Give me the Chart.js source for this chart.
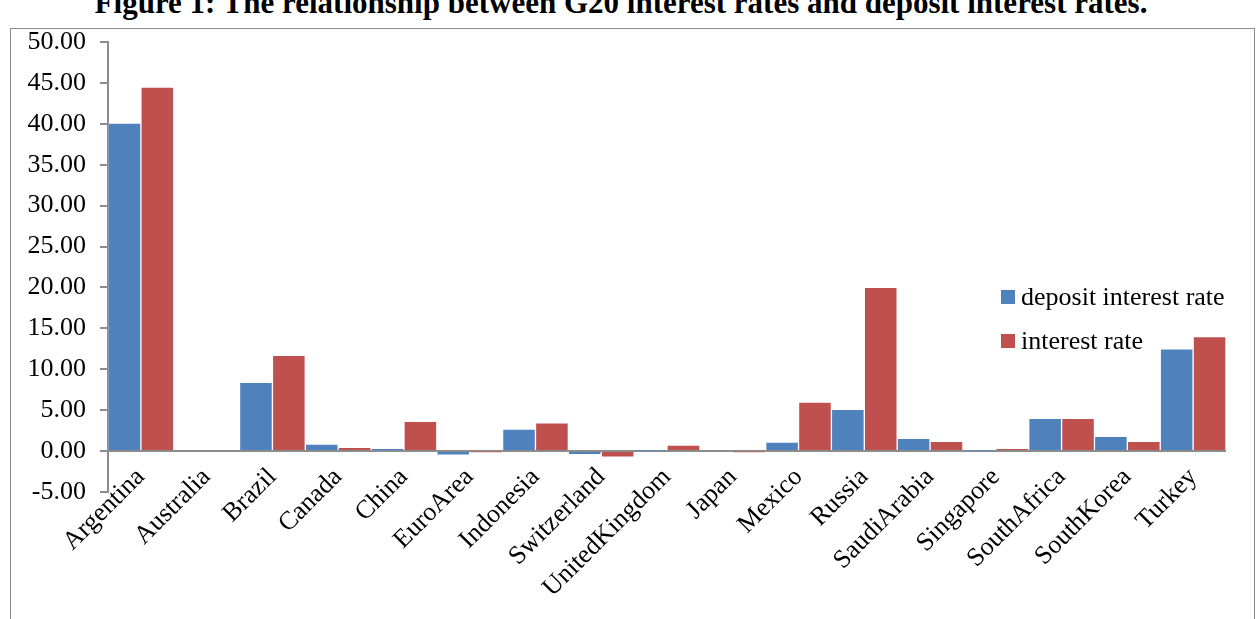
<!DOCTYPE html>
<html>
<head>
<meta charset="utf-8">
<script src="https://cdn.jsdelivr.net/npm/chart.js@4"></script>
<style>
  body { margin: 0; width: 1259px; height: 619px; overflow: hidden; background: #fff; position: relative; font-family: "Liberation Serif", serif; }
  #title { position: absolute; left: 0; width: 1242px; top: -15px; text-align: center; font-weight: bold; font-size: 31px; white-space: nowrap; }
  #frame { position: absolute; left: 10px; top: 28px; width: 1245px; height: 620px; border: 1px solid #8c8c8c; box-sizing: border-box; }
  #wrap { position: absolute; left: 0; top: 0; width: 1259px; height: 619px; }
  .leg { position: absolute; left: 1001px; font-size: 26px; line-height: 26px; white-space: nowrap; }
  .leg span { display: inline-block; width: 14px; height: 14px; margin-right: 6px; vertical-align: 1px; }
</style>
</head>
<body>
<div id="title">Figure 1: The relationship between G20 interest rates and deposit interest rates.</div>
<div id="frame"></div>
<div id="wrap"><canvas id="myChart" width="1259" height="619"></canvas></div>
<div class="leg" style="top:284px"><span style="background:#4F81BD"></span>deposit interest rate</div>
<div class="leg" style="top:328px"><span style="background:#C0504D"></span>interest rate</div>
<script>
let countries = ["Argentina", "Australia", "Brazil", "Canada", "China", "EuroArea", "Indonesia", "Switzerland",
    "UnitedKingdom", "Japan", "Mexico", "Russia", "SaudiArabia", "Singapore", "SouthAfrica", "SouthKorea", "Turkey"];
let depositRate = [40.1, 0.0, 8.4, 0.85, 0.33, -0.5, 2.7, -0.45, 0.05, 0.0, 1.1, 5.1, 1.55, 0.05, 4.0, 1.8, 12.5];
let interestRate = [44.5, 0.0, 11.7, 0.45, 3.65, -0.05, 3.45, -0.75, 0.73, -0.05, 6.0, 20.0, 1.2, 0.3, 4.0, 1.2, 14.0];
let yMin = -5, yMax = 50, yStep = 5;

let myChart = document.getElementById("myChart").getContext("2d");

Chart.defaults.font.family = "Liberation Serif";
Chart.defaults.font.size = 26;
Chart.defaults.color = "black";

// excel puts the category labels just under the zero line, so lift the x scale box
let liftLabels = {
    id: "liftLabels",
    afterLayout: chart => {
        let x = chart.scales.x;
        x.top = chart.chartArea.bottom - 32;
    }
};

let g20Chart = new Chart(myChart, {
    type: "bar",
    data: {
        labels: countries,
        datasets: [{
            label: "deposit interest rate",
            data: depositRate,
            backgroundColor: "#4F81BD",
            borderColor: "rgba(255,255,255,0.25)",
            borderWidth: 1,
            categoryPercentage: 1,
            barPercentage: 1
        }, {
            label: "interest rate",
            data: interestRate,
            backgroundColor: "#C0504D",
            borderColor: "rgba(255,255,255,0.25)",
            borderWidth: 1,
            categoryPercentage: 1,
            barPercentage: 1
        }]
    },
    plugins: [liftLabels],
    options: {
        responsive: false,
        animation: false,
        layout: { padding: { left: 0, top: 42, right: 33, bottom: 0 } },
        plugins: {
            legend: { display: false },
            tooltip: { enabled: false }
        },
        scales: {
            x: {
                grid: { display: false, drawTicks: false },
                border: { display: false },
                ticks: { minRotation: 45, maxRotation: 45, padding: 2, autoSkip: false },
                afterFit: s => { s.height = 127; }
            },
            y: {
                min: yMin,
                max: yMax,
                ticks: {
                    stepSize: yStep,
                    padding: 14,
                    callback: v => v.toFixed(2)
                },
                grid: {
                    drawOnChartArea: true,
                    color: c => (c.tick && c.tick.value === 0) ? "#8c8c8c" : "rgba(0,0,0,0)",
                    tickColor: "#8c8c8c",
                    tickLength: 8,
                    lineWidth: 2
                },
                border: { color: "#8c8c8c", width: 2 },
                afterFit: s => { s.width = 108; }
            }
        }
    }
});
</script>
</body>
</html>
